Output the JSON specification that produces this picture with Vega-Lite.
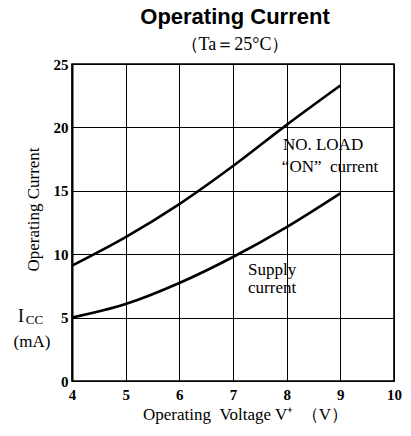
{
  "$schema": "https://vega.github.io/schema/vega-lite/v6.json",
  "width": 322,
  "height": 317,
  "autosize": {"type": "none"},
  "padding": {"left": 72, "top": 64, "right": 17, "bottom": 55},
  "background": "white",
  "config": {
    "view": {"stroke": "black", "strokeWidth": 1.6},
    "font": "Liberation Serif"
  },
  "title": {
    "text": "Operating Current",
    "subtitle": "（Ta＝25°C）",
    "font": "Liberation Sans",
    "fontSize": 22,
    "fontWeight": "bold",
    "color": "black",
    "subtitleFont": "Liberation Serif",
    "subtitleFontSize": 18,
    "subtitleColor": "black",
    "subtitlePadding": 7,
    "anchor": "middle",
    "frame": "group",
    "offset": 2,
    "dx": 2
  },
  "datasets": {
    "curves": [
      {"v": 4.0, "i": 9.1, "series": "NO LOAD ON current"},
      {"v": 5.0, "i": 11.35, "series": "NO LOAD ON current"},
      {"v": 6.0, "i": 13.95, "series": "NO LOAD ON current"},
      {"v": 7.0, "i": 16.95, "series": "NO LOAD ON current"},
      {"v": 8.0, "i": 20.2, "series": "NO LOAD ON current"},
      {"v": 9.0, "i": 23.3, "series": "NO LOAD ON current"},
      {"v": 4.0, "i": 5.0, "series": "Supply current"},
      {"v": 5.0, "i": 6.07, "series": "Supply current"},
      {"v": 6.0, "i": 7.73, "series": "Supply current"},
      {"v": 7.0, "i": 9.78, "series": "Supply current"},
      {"v": 8.0, "i": 12.14, "series": "Supply current"},
      {"v": 9.0, "i": 14.8, "series": "Supply current"}
    ],
    "labels": [
      {"v": 7.93, "i": 18.6, "text": "NO. LOAD"},
      {"v": 7.91, "i": 16.9, "text": "“ON”\u2002current"},
      {"v": 7.28, "i": 8.75, "text": "Supply"},
      {"v": 7.28, "i": 7.33, "text": "current"},
      {"v": 2.91, "i": 3.08, "text": "(mA)"}
    ],
    "bigI": [{"v": 3.05, "i": 5.05, "text": "I"}],
    "subCC": [{"v": 3.3, "i": 4.85, "text": "CC"}]
  },
  "layer": [
    {
      "data": {"name": "curves"},
      "mark": {"type": "line", "interpolate": "monotone", "color": "black", "strokeWidth": 2.6},
      "encoding": {
        "x": {
          "field": "v", "type": "quantitative",
          "scale": {"domain": [4, 10], "nice": false, "zero": false},
          "axis": {
            "values": [4, 5, 6, 7, 8, 9, 10], "format": "d",
            "grid": true, "gridColor": "black", "gridWidth": 1, "gridOpacity": 1,
            "domain": false, "ticks": false,
            "labelPadding": 6, "labelFontSize": 15, "labelFont": "Liberation Serif",
            "labelFontWeight": "bold", "labelColor": "black", "labelFlush": false,
            "title": "Operating\u2002Voltage V⁺\u2002（V）",
            "titleFont": "Liberation Serif", "titleFontSize": 17, "titleFontWeight": "normal",
            "titleColor": "black", "titlePadding": 4, "titleX": 173
          }
        },
        "y": {
          "field": "i", "type": "quantitative",
          "scale": {"domain": [0, 25], "nice": false},
          "axis": {
            "values": [0, 5, 10, 15, 20, 25],
            "grid": true, "gridColor": "black", "gridWidth": 1, "gridOpacity": 1,
            "domain": true, "domainColor": "black", "domainWidth": 2,
            "ticks": false,
            "labelPadding": 4, "labelFontSize": 15, "labelFont": "Liberation Serif",
            "labelFontWeight": "bold", "labelColor": "black", "labelFlush": false,
            "title": "Operating Current",
            "titleFont": "Liberation Serif", "titleFontSize": 17, "titleFontWeight": "normal",
            "titleColor": "black", "titleX": -39, "titleY": 145, "titleAngle": -90,
            "titleAlign": "center", "titleBaseline": "middle"
          }
        },
        "detail": {"field": "series", "type": "nominal"}
      }
    },
    {
      "data": {"name": "labels"},
      "mark": {"type": "text", "align": "left", "baseline": "middle", "font": "Liberation Serif", "fontSize": 17, "color": "black"},
      "encoding": {
        "x": {"field": "v", "type": "quantitative"},
        "y": {"field": "i", "type": "quantitative"},
        "text": {"field": "text"}
      }
    },
    {
      "data": {"name": "bigI"},
      "mark": {"type": "text", "align": "center", "baseline": "middle", "font": "Liberation Serif", "fontSize": 18, "color": "black"},
      "encoding": {
        "x": {"field": "v", "type": "quantitative"},
        "y": {"field": "i", "type": "quantitative"},
        "text": {"field": "text"}
      }
    },
    {
      "data": {"name": "subCC"},
      "mark": {"type": "text", "align": "center", "baseline": "middle", "font": "Liberation Serif", "fontSize": 13, "color": "black"},
      "encoding": {
        "x": {"field": "v", "type": "quantitative"},
        "y": {"field": "i", "type": "quantitative"},
        "text": {"field": "text"}
      }
    }
  ]
}
